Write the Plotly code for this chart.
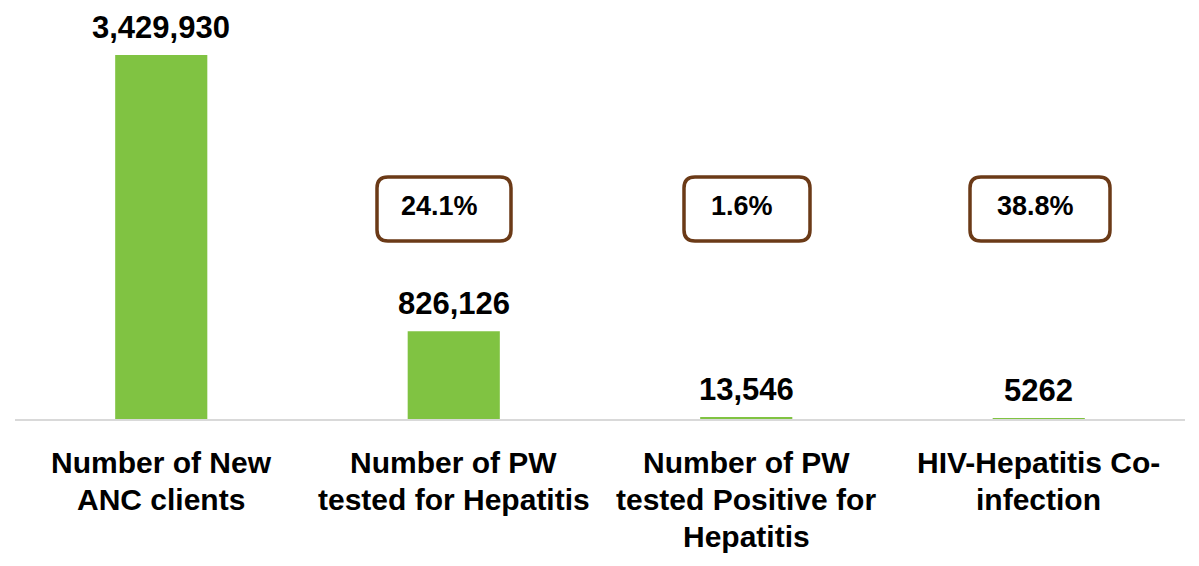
import plotly.graph_objects as go

categories = [
    "Number of New<br>ANC clients",
    "Number of PW<br>tested for Hepatitis",
    "Number of PW<br>tested Positive for<br>Hepatitis",
    "HIV-Hepatitis Co-<br>infection",
]
values = [3429930, 826126, 13546, 5262]
value_labels = ["3,429,930", "826,126", "13,546", "5262"]
# ratio of each stage to the previous one
ratio_labels = ["24.1%", "1.6%", "38.8%"]

W, H = 1199, 566
ML, MR, MT, MB = 15, 14, 20, 147
PW, PH = W - ML - MR, H - MT - MB
YMAX = 3429930 * PH / 364

FONT = "Liberation Sans, Arial, sans-serif"

fig = go.Figure(
    go.Bar(
        x=categories,
        y=values,
        marker=dict(color="#80C342", line=dict(width=0)),
        width=0.315,
        hoverinfo="skip",
    )
)

# value labels above bars
for cat, v, lab in zip(categories, values, value_labels):
    fig.add_annotation(
        x=cat, y=v, text=f"<b>{lab}</b>", showarrow=False,
        xanchor="center", yanchor="middle", yshift=28,
        font=dict(family=FONT, size=31, color="#000000"),
    )

# category labels below the axis, one annotation per line
LINE_GAP = 37
for cat in categories:
    for i, line in enumerate(cat.split("<br>")):
        fig.add_annotation(
            x=cat, y=0, yref="y", text=f"<b>{line}</b>", showarrow=False,
            xanchor="center", yanchor="middle", yshift=-(43 + i * LINE_GAP),
            font=dict(family=FONT, size=30, color="#000000"),
        )

# rounded boxes with the stage ratios
def px2paper(px, py):
    return (px - ML) / PW, (MT + PH - py) / PH

boxes = [(377, 511), (684, 810), (970, 1110)]
top_px, bot_px, r = 177, 241, 11
for (x0, x1), lab in zip(boxes, ratio_labels):
    pts = [
        (x0 + r, top_px), (x1 - r, top_px), (x1, top_px), (x1, top_px + r),
        (x1, bot_px - r), (x1, bot_px), (x1 - r, bot_px), (x0 + r, bot_px),
        (x0, bot_px), (x0, bot_px - r), (x0, top_px + r), (x0, top_px),
    ]
    p = [px2paper(*q) for q in pts]
    f = lambda q: f"{q[0]:.5f},{q[1]:.5f}"
    path = (
        f"M{f(p[0])} L{f(p[1])} Q{f(p[2])} {f(p[3])} L{f(p[4])} "
        f"Q{f(p[5])} {f(p[6])} L{f(p[7])} Q{f(p[8])} {f(p[9])} "
        f"L{f(p[10])} Q{f(p[11])} {f(p[0])} Z"
    )
    fig.add_shape(
        type="path", path=path, xref="paper", yref="paper",
        line=dict(color="#6B3A17", width=3.5), fillcolor="rgba(0,0,0,0)",
    )
    cx, cy = px2paper((x0 + x1) / 2 - 5, (top_px + bot_px) / 2 - 3)
    fig.add_annotation(
        x=cx, y=cy, xref="paper", yref="paper", text=f"<b>{lab}</b>",
        showarrow=False, xanchor="center", yanchor="middle",
        font=dict(family=FONT, size=27, color="#000000"),
    )

fig.update_layout(
    width=W, height=H,
    margin=dict(l=ML, r=MR, t=MT, b=MB),
    paper_bgcolor="white", plot_bgcolor="white",
    showlegend=False,
    xaxis=dict(
        showline=True, linecolor="#D9D9D9", linewidth=2,
        showgrid=False, ticks="", showticklabels=False,
    ),
    yaxis=dict(range=[0, YMAX], visible=False, showgrid=False),
)

fig.write_html("out.html")
